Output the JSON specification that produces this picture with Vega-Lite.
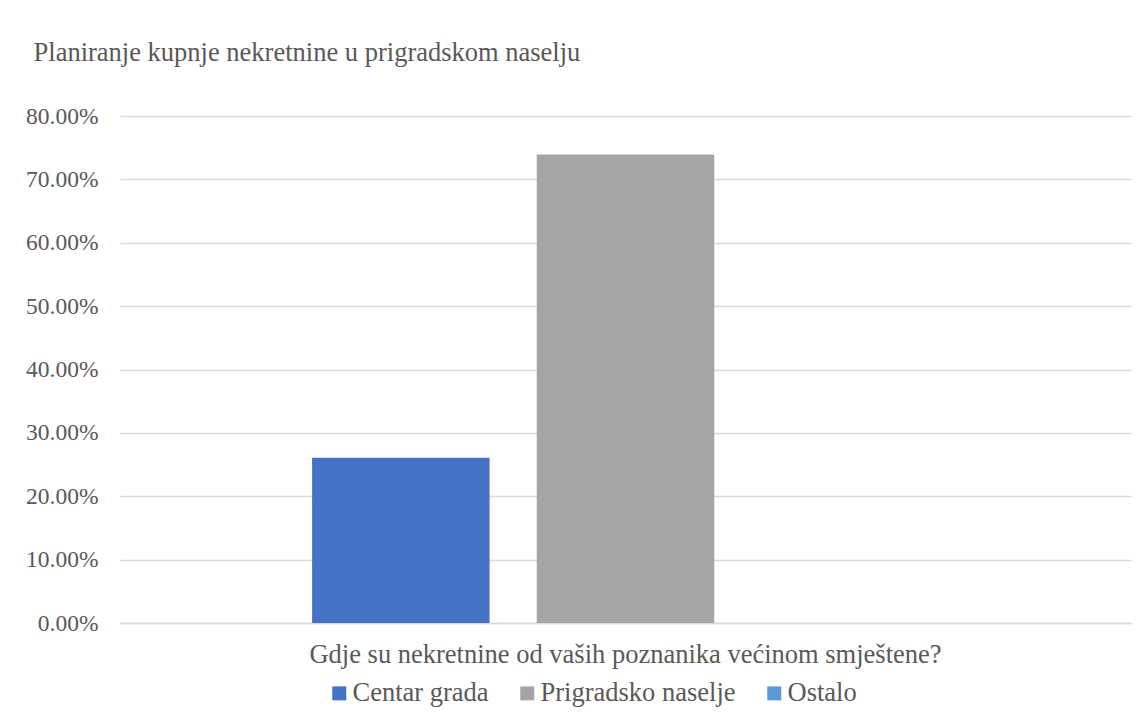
{
  "$schema": "https://vega.github.io/schema/vega-lite/v6.json",
  "width": 1011,
  "height": 507,
  "autosize": {"type": "none"},
  "padding": {"left": 120, "top": 116, "right": 15, "bottom": 95},
  "background": "white",
  "title": {
    "text": "Planiranje kupnje nekretnine u prigradskom naselju",
    "anchor": "start",
    "frame": "bounds",
    "font": "Liberation Serif",
    "fontSize": 26.5,
    "fontWeight": "normal",
    "color": "#595959",
    "offset": 38,
    "dx": 8
  },
  "data": {
    "values": [
      {"q": "Gdje su nekretnine od vaših poznanika većinom smještene?", "series": "Centar grada", "value": 0.2609},
      {"q": "Gdje su nekretnine od vaših poznanika većinom smještene?", "series": "Prigradsko naselje", "value": 0.7391},
      {"q": "Gdje su nekretnine od vaših poznanika većinom smještene?", "series": "Ostalo", "value": 0}
    ]
  },
  "mark": {"type": "bar"},
  "encoding": {
    "x": {
      "field": "q",
      "type": "nominal",
      "scale": {"paddingInner": 0, "paddingOuter": 0},
      "axis": {
        "title": null,
        "labelAngle": 0,
        "labelFont": "Liberation Serif",
        "labelFontSize": 26.5,
        "labelColor": "#595959",
        "labelPadding": 18,
        "labelLimit": 1000,
        "ticks": false,
        "domainColor": "#d9d9d9",
        "domainWidth": 1.5
      }
    },
    "xOffset": {
      "field": "series",
      "type": "nominal",
      "sort": ["Centar grada", "Prigradsko naselje", "Ostalo"],
      "scale": {"paddingInner": 0.21, "paddingOuter": 0.855}
    },
    "y": {
      "field": "value",
      "type": "quantitative",
      "scale": {"domain": [0, 0.8], "nice": false},
      "axis": {
        "title": null,
        "values": [0, 0.1, 0.2, 0.3, 0.4, 0.5, 0.6, 0.7, 0.8],
        "format": ".2%",
        "labelFont": "Liberation Serif",
        "labelFontSize": 23.5,
        "labelColor": "#595959",
        "labelPadding": 22,
        "ticks": false,
        "domain": false,
        "gridColor": "#d9d9d9",
        "gridWidth": 1.5
      }
    },
    "color": {
      "field": "series",
      "type": "nominal",
      "sort": ["Centar grada", "Prigradsko naselje", "Ostalo"],
      "scale": {
        "domain": ["Centar grada", "Prigradsko naselje", "Ostalo"],
        "range": ["#4472C4", "#A5A5A5", "#5B9BD5"]
      },
      "legend": {
        "title": null,
        "orient": "none",
        "direction": "horizontal",
        "legendX": 206,
        "legendY": 564,
        "symbolType": "square",
        "symbolSize": 196,
        "symbolStrokeWidth": 0,
        "symbolOpacity": 1,
        "labelFont": "Liberation Serif",
        "labelFontSize": 26.5,
        "labelColor": "#595959",
        "labelOffset": 0,
        "columnPadding": 25,
        "labelLimit": 400
      }
    }
  },
  "config": {"view": {"stroke": null}}
}
